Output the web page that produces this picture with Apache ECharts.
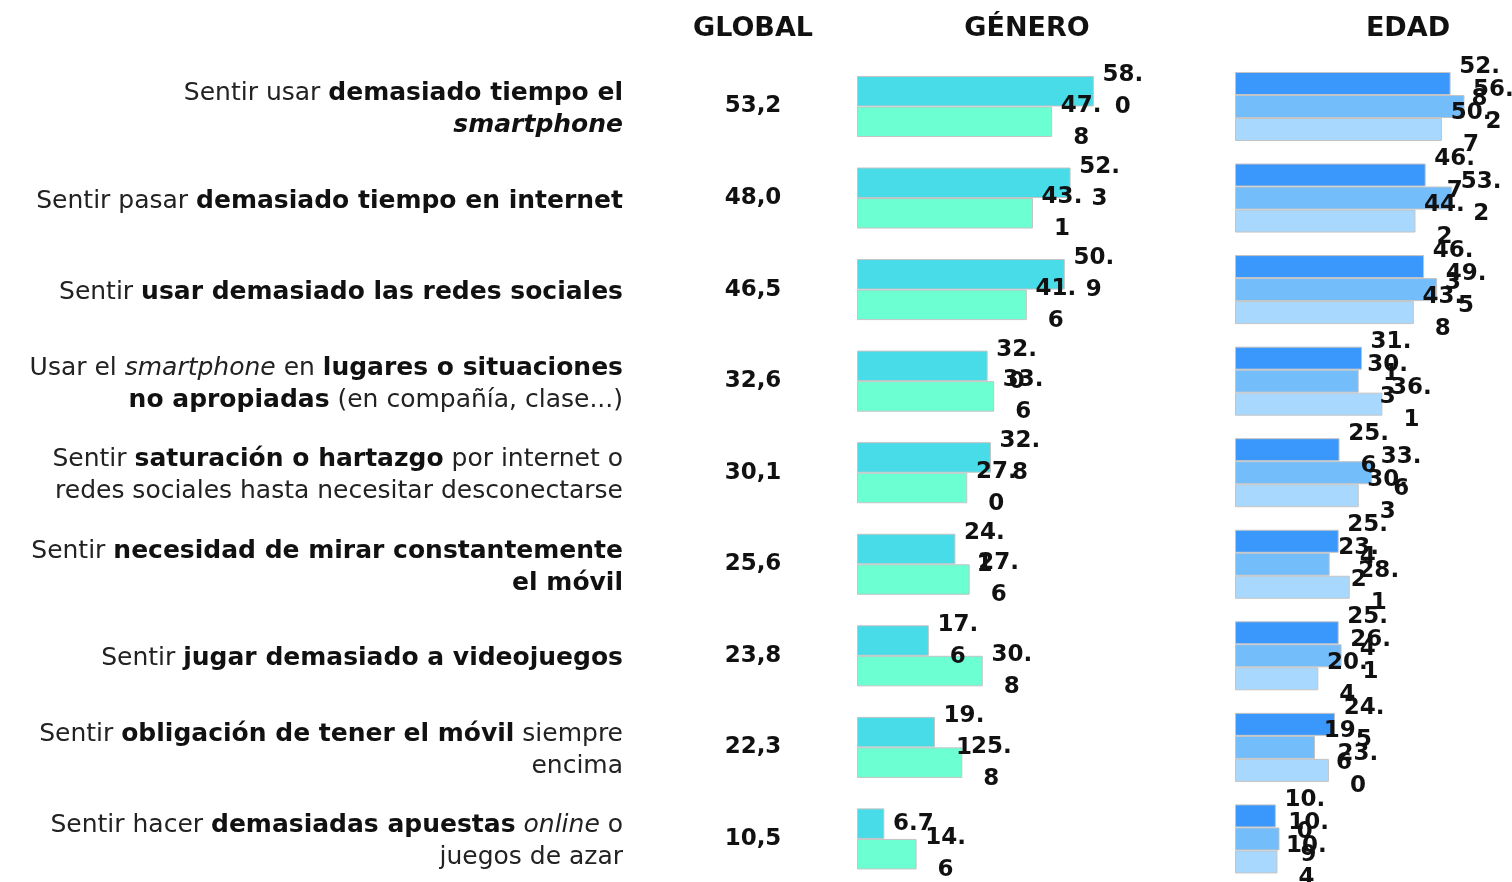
<!DOCTYPE html>
<html>
<head>
<meta charset="utf-8">
<title>Uso problemático</title>
<script src="https://cdn.jsdelivr.net/npm/echarts@6/dist/echarts.min.js"></script>
<style>
  html, body { margin: 0; padding: 0; background: #fff; }
  #main { width: 1512px; height: 882px; }
</style>
</head>
<body>
<div id="main"></div>
<script>
// categorías (texto enriquecido: r normal, b negrita, i cursiva, bi negrita cursiva)
var categories = [
  '{r|Sentir usar }{b|demasiado tiempo el}\n{bi|smartphone}',
  '{r|Sentir pasar }{b|demasiado tiempo en internet}',
  '{r|Sentir }{b|usar demasiado las redes sociales}',
  '{r|Usar el }{i|smartphone}{r| en }{b|lugares o situaciones}\n{b|no apropiadas}{r| (en compañía, clase...)}',
  '{r|Sentir }{b|saturación o hartazgo}{r| por internet o}\n{r|redes sociales hasta necesitar desconectarse}',
  '{r|Sentir }{b|necesidad de mirar constantemente}\n{b|el móvil}',
  '{r|Sentir }{b|jugar demasiado a videojuegos}',
  '{r|Sentir }{b|obligación de tener el móvil}{r| siempre}\n{r|encima}',
  '{r|Sentir hacer }{b|demasiadas apuestas}{i| online}{r| o}\n{r|juegos de azar}'
];
var headers = ['GLOBAL', 'GÉNERO', 'EDAD'];

var global = [53.2, 48.0, 46.5, 32.6, 30.1, 25.6, 23.8, 22.3, 10.5];

var generoA = [58.0, 52.3, 50.9, 32.0, 32.8, 24.1, 17.6, 19.1, 6.7];
var generoB = [47.8, 43.1, 41.6, 33.6, 27.0, 27.6, 30.8, 25.8, 14.6];

var edad1 = [52.8, 46.7, 46.3, 31.1, 25.6, 25.4, 25.4, 24.5, 10.0];
var edad2 = [56.2, 53.2, 49.5, 30.3, 33.6, 23.2, 26.1, 19.6, 10.9];
var edad3 = [50.7, 44.2, 43.8, 36.1, 30.3, 28.1, 20.4, 23.0, 10.4];

var FONT = '"DejaVu Sans", Inter, sans-serif';
var chart = echarts.init(document.getElementById('main'));

// etiqueta de valor partida como en el original ("58." / "0")
function valueLabel(p) {
  var s = p.value.toFixed(1);
  if (s.length > 3) return s.slice(0, 3) + '\n' + s.slice(3);
  return s;
}

function barSeries(data, color, axis, gap) {
  return {
    type: 'bar',
    data: data,
    xAxisIndex: axis,
    yAxisIndex: axis === 0 ? 0 : 2,
    barGap: '0%',
    barCategoryGap: gap,
    itemStyle: { color: color, borderColor: '#c4c4c4', borderWidth: 1 },
    label: {
      show: true,
      position: 'right',
      distance: 29,
      align: 'center',
      formatter: valueLabel,
      fontFamily: FONT,
      fontWeight: 'bold',
      fontSize: 23,
      lineHeight: 32,
      padding: [3, 0, 0, 0],
      color: '#111'
    },
    emphasis: { disabled: true },
    silent: true
  };
}

var hidden = { axisLine: { show: false }, axisTick: { show: false }, splitLine: { show: false } };
var rowIdx = categories.map(function (c, i) { return i; });

var option = {
  backgroundColor: '#fff',
  animation: false,
  graphic: [
    { x: 753, y: 29 },
    { x: 1027, y: 29 },
    { x: 1408, y: 29 }
  ].map(function (pos, i) {
    return {
      type: 'text', x: pos.x, y: pos.y,
      style: {
        text: headers[i], fill: '#111',
        font: 'bold 27px ' + FONT,
        textAlign: 'center', textVerticalAlign: 'middle',
        align: 'center', verticalAlign: 'middle'
      }
    };
  }),
  grid: [
    { left: 857, top: 60.7, width: 245, height: 824, outerBoundsMode: 'none' },
    { left: 1235, top: 60.7, width: 245, height: 824, outerBoundsMode: 'none' }
  ],
  xAxis: [
    Object.assign({ type: 'value', gridIndex: 0, min: 0, max: 60, axisLabel: { show: false } }, hidden),
    Object.assign({ type: 'value', gridIndex: 1, min: 0, max: 60, axisLabel: { show: false } }, hidden)
  ],
  yAxis: [
    Object.assign({
      type: 'category', gridIndex: 0, inverse: true, data: categories, position: 'left',
      axisLabel: {
        margin: 234, align: 'right', verticalAlign: 'middle', interval: 0,
        padding: [6, 0, 0, 0],
        color: '#111', fontFamily: FONT, fontSize: 25, lineHeight: 32,
        rich: {
          r: { fontFamily: FONT, fontSize: 25, fontWeight: 'normal', lineHeight: 32, color: '#222' },
          b: { fontFamily: FONT, fontSize: 25, fontWeight: 'bold', lineHeight: 32, color: '#111' },
          i: { fontFamily: FONT, fontSize: 25, fontWeight: 'normal', fontStyle: 'italic', lineHeight: 32, color: '#222' },
          bi: { fontFamily: FONT, fontSize: 25, fontWeight: 'bold', fontStyle: 'italic', lineHeight: 32, color: '#111' }
        }
      }
    }, hidden),
    Object.assign({
      type: 'category', gridIndex: 0, inverse: true, data: rowIdx, position: 'left', offset: 0,
      axisLabel: {
        margin: 104, align: 'center', verticalAlign: 'middle', interval: 0,
        padding: [6, 0, 0, 0],
        color: '#111', fontFamily: FONT, fontSize: 23, fontWeight: 'bold',
        formatter: function (v, i) { return global[i].toFixed(1).replace('.', ','); }
      }
    }, hidden),
    Object.assign({
      type: 'category', gridIndex: 1, inverse: true, data: categories,
      axisLabel: { show: false }
    }, hidden)
  ],
  series: [
    barSeries(generoA, '#48dce8', 0, '33.3%'),
    barSeries(generoB, '#6cffd2', 0, '33.3%'),
    barSeries(edad1, '#3a97fb', 1, '24.6%'),
    barSeries(edad2, '#73bdfb', 1, '24.6%'),
    barSeries(edad3, '#a8d8fd', 1, '24.6%')
  ]
};

chart.setOption(option);
</script>
</body>
</html>
